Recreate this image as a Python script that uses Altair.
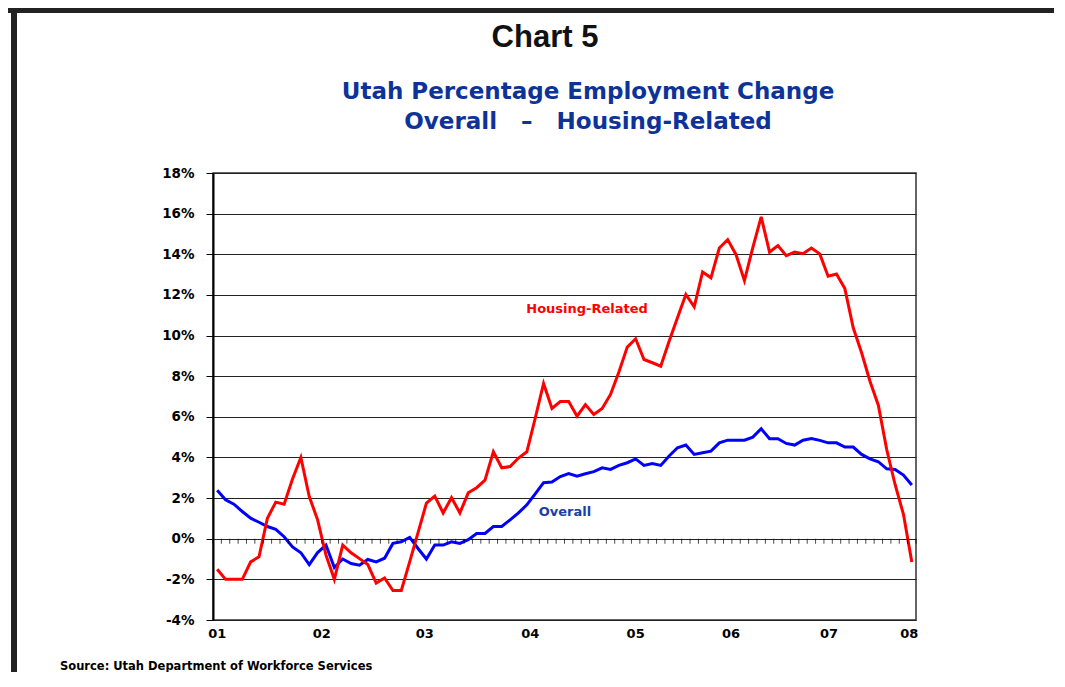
import altair as alt
import pandas as pd

# ---- data (monthly, Jan 2001 .. Dec 2007), percent change ----
overall = [2.38, 1.92, 1.70, 1.34, 1.01, 0.81, 0.60, 0.46, 0.10, -0.40,
           -0.69, -1.27, -0.68, -0.31, -1.42, -1.00, -1.22, -1.30, -1.02, -1.14,
           -0.96, -0.23, -0.15, 0.07, -0.48, -1.00, -0.31, -0.31, -0.15, -0.23,
           -0.05, 0.26, 0.26, 0.60, 0.60, 0.93, 1.27, 1.67, 2.21, 2.76,
           2.79, 3.06, 3.21, 3.08, 3.20, 3.30, 3.49, 3.41, 3.61, 3.74,
           3.93, 3.61, 3.70, 3.61, 4.07, 4.48, 4.61, 4.15, 4.23, 4.31,
           4.72, 4.85, 4.85, 4.85, 5.00, 5.41, 4.92, 4.92, 4.69, 4.61,
           4.85, 4.93, 4.84, 4.72, 4.72, 4.51, 4.51, 4.15, 3.93, 3.79,
           3.44, 3.41, 3.13, 2.64]
housing = [-1.50, -2.00, -2.00, -2.00, -1.14, -0.89, 1.01, 1.80, 1.70, 2.94,
           4.00, 2.08, 0.93, -0.81, -2.00, -0.31, -0.69, -0.98, -1.27, -2.18,
           -1.93, -2.55, -2.55, -1.14, 0.30, 1.75, 2.10, 1.27, 2.02, 1.27,
           2.26, 2.51, 2.88, 4.28, 3.49, 3.55, 3.97, 4.28, 5.93, 7.64,
           6.41, 6.75, 6.75, 6.03, 6.60, 6.11, 6.41, 7.10, 8.21, 9.43,
           9.84, 8.82, 8.66, 8.49, 9.72, 10.87, 12.02, 11.41, 13.13, 12.84,
           14.31, 14.72, 13.98, 12.70, 14.33, 15.84, 14.11, 14.43, 13.93, 14.11,
           14.03, 14.31, 14.02, 12.92, 13.03, 12.31, 10.38, 9.15, 7.75, 6.57,
           4.39, 2.67, 1.20, -1.15]
months = list(range(len(overall)))

year_labels = ["01", "02", "03", "04", "05", "06", "07", "08"]
year_label_pos = [0, 12.5, 24.8, 37.4, 50.0, 61.4, 73.1, 82.7]

series_names = ["Housing-Related", "Overall"]
series_label_x = [44.2, 41.55]
series_label_y = [11.29, 1.34]

y_ticks = [-4, -2, 0, 2, 4, 6, 8, 10, 12, 14, 16, 18]
month_bounds = [m - 0.5 for m in range(len(overall) + 1)]

W, H = 703, 447
BOLD_FONT = "DejaVu Sans"

df = pd.DataFrame({"m": months, "overall": overall, "housing": housing})
xs = alt.Scale(domain=[-0.5, 83.5], nice=False, zero=False)
ys = alt.Scale(domain=[-4, 18], nice=False, zero=False)

yaxis = alt.Axis(values=y_ticks, labelExpr="datum.value + '%'", title=None,
                 grid=True, gridColor="#222", gridWidth=1,
                 tickSize=7, tickColor="#000", domainColor="#000", domainWidth=2,
                 labelFont=BOLD_FONT, labelFontWeight="bold", labelFontSize=13.5,
                 labelColor="#000", labelPadding=12)

base = alt.Chart(df)
blue = base.mark_line(color="#0000ff", strokeWidth=3).encode(
    x=alt.X("m:Q", scale=xs, axis=None),
    y=alt.Y("overall:Q", scale=ys, axis=yaxis),
)
red = base.mark_line(color="#ff0000", strokeWidth=3).encode(
    x=alt.X("m:Q", scale=xs, axis=None),
    y=alt.Y("housing:Q", scale=ys, axis=yaxis),
)

ticks = alt.Chart(pd.DataFrame({"b": month_bounds})).mark_tick(
    orient="vertical", size=5, thickness=1, color="#000", yOffset=2.5
).encode(x=alt.X("b:Q", scale=xs, axis=None), y=alt.Y(datum=0, scale=ys, axis=yaxis))

xlabels = alt.Chart(pd.DataFrame({"pos": year_label_pos, "lab": year_labels})).mark_text(
    font=BOLD_FONT, fontWeight="bold", fontSize=13, color="#000", baseline="middle"
).encode(x=alt.X("pos:Q", scale=xs, axis=None), y=alt.value(H + 14), text="lab:N")

slabels = alt.Chart(pd.DataFrame({"name": series_names, "sx": series_label_x,
                                  "sy": series_label_y})).mark_text(
    font=BOLD_FONT, fontWeight="bold", fontSize=13, baseline="middle"
).encode(
    x=alt.X("sx:Q", scale=xs, axis=None),
    y=alt.Y("sy:Q", scale=ys, axis=yaxis),
    text="name:N",
    color=alt.Color("name:N", scale=alt.Scale(domain=series_names,
                                              range=["#ff0000", "#1a3fa8"]), legend=None),
)

one = pd.DataFrame({"k": [0]})
frame_top = alt.Chart(one).mark_rule(color="#222", strokeWidth=6).encode(
    x=alt.value(-205), x2=alt.value(W + 200), y=alt.value(-163))
frame_left = alt.Chart(one).mark_rule(color="#222", strokeWidth=6).encode(
    x=alt.value(-199), y=alt.value(-170), y2=alt.value(H + 100))

title = alt.Chart(one).mark_text(text="Chart 5", font="Liberation Sans Narrow, Arial Narrow, Liberation Sans",
                                 fontWeight="bold", fontSize=31, color="#111",
                                 align="center", baseline="middle").encode(
    x=alt.value(332), y=alt.value(-135))
sub1 = alt.Chart(one).mark_text(text="Utah Percentage Employment Change", font=BOLD_FONT,
                                fontWeight="bold", fontSize=23, color="#0d3399",
                                align="center", baseline="middle").encode(
    x=alt.value(375), y=alt.value(-81))
sub2 = alt.Chart(one).mark_text(text="Overall\u00a0\u00a0\u00a0\u2013\u00a0\u00a0\u00a0Housing-Related",
                                font=BOLD_FONT, fontWeight="bold", fontSize=23, color="#0d3399",
                                align="center", baseline="middle").encode(
    x=alt.value(375), y=alt.value(-51))
source = alt.Chart(one).mark_text(text="Source: Utah Department of Workforce Services",
                                  font=BOLD_FONT, fontWeight="bold", fontSize=11.5, color="#000",
                                  align="left", baseline="middle").encode(
    x=alt.value(-153), y=alt.value(494))

chart = alt.layer(
    blue, red, ticks, xlabels, slabels, frame_top, frame_left, title, sub1, sub2, source
).properties(
    width=W, height=H,
    autosize=alt.AutoSizeParams(type="none"),
    padding={"left": 205, "top": 165, "right": 138, "bottom": 52},
    background="#ffffff",
).configure_view(stroke="#333", strokeWidth=1.5)

chart.save("out.html", embed_options={"renderer": "svg", "actions": False})
